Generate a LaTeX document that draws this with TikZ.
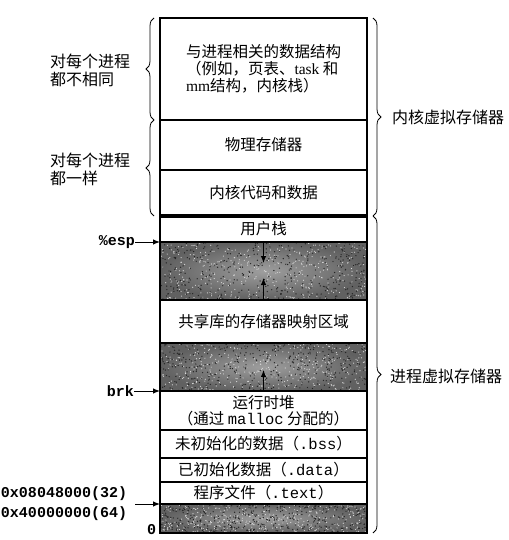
\documentclass[tikz,border=0pt]{standalone}
\usepackage{fontspec}
\setmainfont{Noto Sans CJK SC}
\newfontfamily\lat{Liberation Serif}
\setmonofont{Liberation Mono}
\usetikzlibrary{arrows.meta,positioning,decorations.pathreplacing}
\begin{document}
\begin{tikzpicture}[x=1pt, y=-1pt,
   every node/.style={font=\fontsize{15.5}{17}\selectfont, inner sep=0pt, outer sep=0pt},
   seg/.style={draw, line width=1.1pt, minimum width=207pt, align=center},
   noise/.style={seg, inner color=black!38, outer color=black!62},
   side/.style={font=\fontsize{16}{18}\selectfont, align=left},
   reg/.style={font=\fontsize{15}{20}\selectfont\ttfamily\bfseries},
   ptr/.style={-{Latex[length=7pt,width=5.5pt]}, line width=1pt},
   lbrace/.style={decorate, decoration={brace, amplitude=8pt}, line width=0.8pt}]
\useasboundingbox (0,0) rectangle (508,540);
\node[seg, minimum height=102pt, anchor=north, align=left] (ds) at (263.5,18)
  {与进程相关的数据结构\\（例如，页表、{\lat task} 和\\{\lat mm}结构，内核栈）};
\node[seg, minimum height=50pt, below=0pt of ds] (phys) {物理存储器};
\node[seg, minimum height=46pt, below=0pt of phys] (kcode) {内核代码和数据};
\node[seg, minimum height=26pt, below=0pt of kcode] (ustack) {用户栈};
\node[noise, minimum height=58pt, below=0pt of ustack] (gap1) {};
\node[seg, minimum height=43pt, below=0pt of gap1] (shlib) {共享库的存储器映射区域};
\node[noise, minimum height=48pt, below=0pt of shlib] (gap2) {};
\node[seg, minimum height=39pt, below=0pt of gap2, font=\fontsize{15.5}{16.5}\selectfont] (heap)
  {运行时堆\\（通过 \texttt{malloc} 分配的）};
\node[seg, minimum height=28pt, below=0pt of heap] (bss) {未初始化的数据（\texttt{.bss}）};
\node[seg, minimum height=24pt, below=0pt of bss] (data) {已初始化数据（\texttt{.data}）};
\node[seg, minimum height=22pt, below=0pt of data] (txt) {程序文件（\texttt{.text}）};
\node[noise, minimum height=29pt, below=0pt of txt] (low) {};
\draw[line width=3.5pt] (kcode.south west) -- (kcode.south east);

\pgfmathsetseed{42}
\foreach \r/\h in {gap1/58, gap2/48, low/29} {
  \begin{scope}[shift={(\r.north west)}]
    \clip (0.6,0.6) rectangle (206.4,\h-0.6);
    \foreach \i in {1,...,420} {
      \fill[black!85] ({207*rnd},{\h*rnd}) circle (0.7pt);
      \fill[white!85!black] ({207*rnd},{\h*rnd}) circle (0.6pt);
    }
  \end{scope}
}
\draw[seg] (gap1.north west) rectangle (gap1.south east);
\draw[seg] (gap2.north west) rectangle (gap2.south east);
\draw[seg] (low.north west) rectangle (low.south east);

\coordinate (stkend) at ([yshift=-21pt]gap1.north);
\coordinate (mapend) at ([yshift=22pt]gap1.south);
\coordinate (heapend) at ([yshift=21pt]gap2.south);
\draw[ptr] (gap1.north) -- (stkend);
\draw[ptr] (gap1.south) -- (mapend);
\draw[ptr] (gap2.south) -- (heapend);

\node[side] (diff) at (90,70) {对每个进程\\都不相同};
\node[side] (same) at (90,169) {对每个进程\\都一样};
\node[side, anchor=west] (kvm) at (392,117) {内核虚拟存储器};
\node[side, anchor=west] (pvm) at (390,376) {进程虚拟存储器};
\draw[lbrace] ([xshift=-6pt]ds.south west) -- ([xshift=-6pt]ds.north west);
\draw[lbrace] ([xshift=-6pt]kcode.south west) -- ([xshift=-6pt]phys.north west);
\draw[lbrace] ([xshift=6pt]ds.north east) -- ([xshift=6pt]kcode.south east);
\draw[lbrace] ([xshift=6pt]ustack.north east) -- ([xshift=6pt]low.south east);

\node[reg, anchor=east] (esp) at (135,242) {\%esp};
\node[reg, anchor=east] (brk) at (134,391) {brk};
\node[reg, anchor=west, align=left] (addr) at (1,504) {0x08048000(32)\\0x40000000(64)};
\node[reg, anchor=east] (zero) at (156,530) {0};
\draw[ptr] (esp.east) -- (gap1.north west);
\draw[ptr] (brk.east) -- (gap2.south west);
\draw[ptr, shorten <=8pt] (addr.east |- txt.south west) -- (txt.south west);
\end{tikzpicture}
\end{document}
